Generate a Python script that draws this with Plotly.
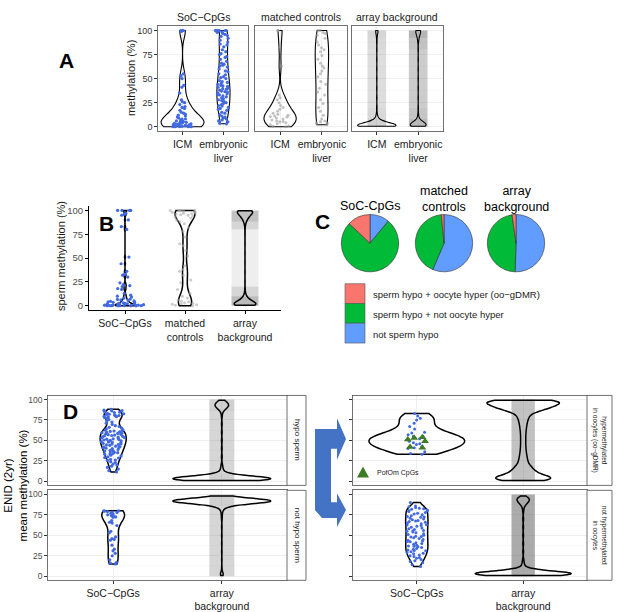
import numpy as np
import plotly.graph_objects as go

W, H = 617, 612

# ---------------- data ----------------
A_CATS = ["ICM", "embryonic<br>liver"]
B_CATS = ["SoC−CpGs", "matched<br>controls", "array<br>background"]
D_CATS = ["SoC−CpGs", "array<br>background"]
Y_TICKS = [0, 25, 50, 75, 100]
Y_MINOR = [12.5, 37.5, 62.5, 87.5]

# Panel A: SoC-CpGs methylation (%)
a_soc_icm = [0, 0, 0, 0, 0, 0.5, 0.5, 1, 1, 1, 1.5, 2, 2, 2, 2.5, 3, 3, 3.5, 4, 4, 4.5, 5, 5,
             6, 6, 7, 8, 8, 9, 10, 11, 12, 13, 14, 15, 17, 19, 20, 21, 23, 25, 26, 28, 35,
             41, 43, 50, 53, 55, 99, 100, 100, 100]
a_soc_liver = [3, 3.5, 5, 6, 7, 8, 9, 10, 11, 12.5, 14, 15, 17, 18, 19, 20, 21.5, 22, 23, 24,
               25, 26, 27, 28, 29, 30, 31, 32, 33, 33.5, 34, 35, 36, 36.5, 37, 38, 39, 39.5,
               40, 41, 42, 42.5, 43, 44, 45, 46, 47, 48, 50, 51, 52, 54, 55, 57, 58, 60, 62,
               63, 64, 65, 66, 68, 70, 72, 73, 75, 76, 78, 80, 83, 85, 86, 88, 90, 92, 94,
               95, 96, 97, 98, 98.5, 99, 99.5, 100, 100, 100, 100, 100, 100]
# Panel A: matched controls
a_mc_icm = [0, 0.5, 1, 2, 3, 4, 5, 5.5, 6, 7, 8, 9, 10, 10.5, 11, 12, 13, 14, 16, 18, 20,
            22, 25, 28, 30, 33, 63, 83, 100, 100]
a_mc_liver = [2, 3, 3.5, 4, 5, 6, 8, 12, 16, 20, 24, 28, 33, 36, 40, 44, 47, 52, 55, 58, 61,
              63, 66, 70, 74, 78, 80, 82, 85, 88, 92, 95, 97, 98, 100, 100]
# Panel A: array background (binned values and counts)
a_bg_icm_vals = [0.5, 2, 4, 6, 9, 13, 20, 30, 40, 50, 60, 70, 80, 88, 94, 98, 100]
a_bg_icm_counts = [700, 450, 200, 90, 45, 25, 18, 14, 12, 12, 12, 12, 13, 15, 20, 30, 45]
a_bg_liver_vals = [0.5, 2, 4, 6, 9, 13, 20, 30, 40, 50, 60, 70, 80, 88, 92, 95, 98, 100]
a_bg_liver_counts = [300, 330, 220, 90, 40, 25, 20, 18, 18, 18, 18, 18, 20, 28, 45, 70, 110, 120]
a_band_edges = [0, 8, 20, 80, 92, 100]
a_band_icm = [0.35, 0.28, 0.25, 0.28, 0.3]
a_band_liver = [0.5, 0.42, 0.38, 0.45, 0.55]

# Panel B: sperm methylation (%)
b_soc = [0, 0, 0, 0, 0, 0, 0, 0, 0, 0, 0, 0, 0.5, 0.5, 0.5, 1, 1, 1, 1, 1.5, 1.5, 2, 2, 2,
         2.5, 2.5, 3, 3, 3.5, 4, 4, 4.5, 5, 5.5, 6, 6.5, 7, 8, 9, 10, 11, 13, 17, 18, 20, 21,
         22, 24, 30, 32, 33, 36, 44, 51, 80, 83, 90, 95, 96, 97, 100, 100, 100, 100]
b_mc = [0, 0.5, 1, 1.5, 2, 2.5, 3, 4, 5, 6, 8, 10, 13, 17, 24, 27, 32, 36, 38, 42, 52, 58, 63,
        65, 72, 78, 82, 86, 88, 90, 92, 93, 94, 95, 95.5, 96, 96.5, 97, 97.5, 98, 98.5, 99,
        99.5, 100, 100, 100, 100]
b_bg_vals = [0.5, 2, 4, 6, 8, 10, 13, 17, 25, 35, 45, 55, 65, 75, 82, 86, 89, 92, 95, 98, 99.5]
b_bg_counts = [400, 300, 200, 120, 70, 40, 20, 12, 8, 7, 6, 6, 7, 8, 12, 25, 60, 120, 200, 260, 250]
b_band_edges = [0, 10, 20, 80, 88, 100]
b_band = [0.5, 0.3, 0.13, 0.3, 0.45]

# Panel C: category shares (%)
c_labels = ["not sperm hypo", "sperm hypo + not oocyte hyper",
            "sperm hypo + oocyte hyper (oo−gDMR)"]
c_colors = ["#619CFF", "#00BA38", "#F8766D"]
c_soc = [11, 76, 13]
c_mc = [56.4, 42.1, 1.5]
c_bg = [50.5, 47.3, 2.2]

# Panel D: ENID (2yr) mean methylation (%)
d1_soc = [11.5, 13, 15, 17, 18.5, 20, 21, 23, 24, 25.5, 26, 27, 28.5, 29, 30, 31, 32, 33, 33.5,
          34, 35, 35.5, 36, 37, 37.5, 38, 39, 40, 40.5, 41, 41.5, 42, 42.5, 43, 44, 44.5, 45,
          45.5, 46, 46.5, 47, 47.5, 48, 48.5, 49, 49.5, 50, 50.5, 51, 51.5, 52, 52.5, 53, 53.5,
          54, 54.5, 55, 55.5, 56, 56.5, 57, 57.5, 58, 58.5, 59, 59.5, 60, 60.5, 61, 61.5, 62,
          62.5, 63, 64, 65, 66, 67, 68, 69.5, 71, 72.5, 74, 75.5, 77, 78, 78.5, 79, 79.5, 80,
          80.5, 81, 81.5, 82, 82.5, 83, 84, 84.5, 85, 86, 86.5, 87, 88]
d1_bg_vals = [1, 3, 5, 7, 10, 15, 20, 30, 40, 50, 60, 70, 80, 85, 88, 91, 94, 97, 99]
d1_bg_counts = [500, 800, 500, 200, 80, 35, 20, 12, 10, 10, 10, 10, 12, 20, 50, 110, 120, 70, 30]
d2_soc = [15, 16, 17, 20, 25, 28, 31, 33, 38, 44, 45, 46, 48, 53, 55, 62, 65, 66, 68, 72, 72.5,
          73, 74, 75, 76, 77, 78, 78.5, 79, 79.5, 80, 80]
d2_bg_vals = [1, 3, 5, 10, 20, 30, 40, 50, 60, 70, 75, 80, 84, 87, 90, 92, 94, 96, 98]
d2_bg_counts = [20, 25, 8, 5, 5, 6, 6, 7, 8, 10, 14, 25, 60, 200, 600, 800, 500, 200, 50]
d3_soc = [83, 80, 77, 75, 71, 67, 64, 60, 59, 57, 55, 55, 52, 49, 47, 46, 45, 43, 41, 40,
          36, 34, 33]
d3_pofom = [54, 53, 51, 49, 42, 41]
d3_bg_vals = [1, 3, 5, 8, 12, 16, 20, 25, 30, 35, 40, 45, 50, 55, 60, 65, 70, 75, 80, 85, 88,
              91, 94, 97, 99]
d3_bg_counts = [60, 68, 68, 62, 48, 35, 27, 22, 18, 15, 13, 12, 12, 12, 13, 15, 18, 22, 30, 45,
                62, 85, 100, 100, 90]
d4_soc = [12, 14, 16.5, 18, 19, 20.5, 22, 23, 24, 25, 26, 27.5, 28, 29, 30, 31, 31.5, 32, 33,
          34, 35, 36, 36.5, 37, 38, 39, 40, 41, 42, 42.5, 43, 44, 45, 46, 47, 48, 48.5, 49, 50,
          51, 52, 53, 54, 55, 55.5, 56, 57, 58, 59, 60, 61, 62, 62.5, 63, 64, 65, 66, 67, 67.5,
          68, 69, 70, 71, 72, 72.5, 73, 74, 75, 76, 77, 78, 79, 80, 80.5, 81, 82, 82.5, 83, 84,
          85, 86, 90]
d4_bg_vals = [1, 3, 5, 7, 10, 15, 20, 30, 40, 50, 60, 70, 80, 85, 88, 91, 94, 96, 98]
d4_bg_counts = [500, 800, 450, 180, 70, 30, 18, 12, 10, 10, 10, 12, 14, 22, 45, 90, 100, 60, 20]
d_band_edges_l = [0, 10, 85, 100]
d1_band = [0.35, 0.3, 0.35]
d2_band = [0.3, 0.3, 0.35]
d_band_edges_r = [0, 100]
d3_band = [0.45]
d4_band = [0.62]

# ---------------- style ----------------
BLUE = "#4169E1"
FONT = "Liberation Sans"


def paper(x, y):
    return x / W, 1 - y / H


panels = [
    ("A1", 158, 25, 248, 132, A_CATS),
    ("A2", 255, 25, 347, 132, A_CATS),
    ("A3", 352, 25, 443, 132, A_CATS),
    ("B", 89, 207, 281, 313, B_CATS),
    ("D1", 48, 399, 287, 490, D_CATS),
    ("D2", 48, 495, 287, 586, D_CATS),
    ("D3", 353, 399, 587, 490, D_CATS),
    ("D4", 353, 495, 587, 586, D_CATS),
]
AX = {}
layout_axes = {}
for i, (name, x0, y0, x1, y1, cats) in enumerate(panels, start=1):
    sfx = "" if i == 1 else str(i)
    AX[name] = ("x" + sfx, "y" + sfx, cats)
    kind = name[0]
    xa = dict(domain=[x0 / W, x1 / W], anchor="y" + sfx, type="category",
              categoryorder="array", categoryarray=cats,
              range=[-0.6, len(cats) - 0.4], fixedrange=True, zeroline=False)
    ya = dict(domain=[1 - y1 / H, 1 - y0 / H], anchor="x" + sfx, range=[-5, 105],
              tickvals=Y_TICKS, fixedrange=True, zeroline=False)
    if kind in "AD":
        for a in (xa, ya):
            a.update(showline=True, mirror=True, linecolor="#4d4d4d", linewidth=0.8,
                     showgrid=True, gridcolor="#ebebeb", gridwidth=0.8)
        ya["minor"] = dict(tickvals=Y_MINOR, showgrid=True, gridcolor="#f5f5f5",
                           gridwidth=0.5)
    else:
        xa.update(showline=True, linecolor="black", linewidth=1, showgrid=False)
        ya.update(showline=True, linecolor="black", linewidth=1, showgrid=False)
    if kind == "A":
        xa.update(ticks="outside", ticklen=3, tickcolor="#333",
                  tickfont=dict(size=10.5, color="#1a1a1a", family=FONT))
        if name == "A1":
            ya.update(ticks="outside", ticklen=3, tickcolor="#333",
                      tickfont=dict(size=9, color="#333", family=FONT))
        else:
            ya.update(showticklabels=False, ticks="")
    elif kind == "B":
        xa.update(ticks="outside", ticklen=3, tickcolor="black",
                  tickfont=dict(size=10.5, color="#1a1a1a", family=FONT))
        ya.update(ticks="outside", ticklen=3, tickcolor="black",
                  tickfont=dict(size=9.5, color="#4d4d4d", family=FONT))
    else:
        if name in ("D2", "D4"):
            xa.update(ticks="outside", ticklen=3, tickcolor="#333",
                      tickfont=dict(size=10.5, color="#1a1a1a", family=FONT))
        else:
            xa.update(showticklabels=False, ticks="")
        ya.update(ticks="outside", ticklen=3, tickcolor="#333",
                  tickfont=dict(size=8.5, color="#4d4d4d", family=FONT))
        if name in ("D3", "D4"):
            ya.update(showticklabels=False)
    layout_axes["xaxis" + sfx] = xa
    layout_axes["yaxis" + sfx] = ya

traces = []


def vio(panel, cat, vals, width, lw=1.3, bw=None):
    xa, ya, _ = AX[panel]
    kw = {} if bw is None else {"bandwidth": bw}
    traces.append(go.Violin(x=[cat] * len(vals), y=list(vals), xaxis=xa, yaxis=ya,
                            width=width, spanmode="hard", scalemode="width",
                            points=False, fillcolor="rgba(0,0,0,0)",
                            line=dict(color="black", width=lw),
                            hoverinfo="skip", showlegend=False, **kw))


def pts(panel, cat, vals, width, color, size=3.5, jitter=1.0, opacity=1.0,
        symbol="circle"):
    xa, ya, _ = AX[panel]
    traces.append(go.Box(x=[cat] * len(vals), y=list(vals), xaxis=xa, yaxis=ya,
                         width=width, boxpoints="all", jitter=jitter, pointpos=0,
                         fillcolor="rgba(0,0,0,0)",
                         line=dict(width=0, color="rgba(0,0,0,0)"),
                         marker=dict(color=color, size=size, opacity=opacity,
                                     symbol=symbol, line=dict(width=0)),
                         hoverinfo="skip", showlegend=False))


def band(panel, cat, edges, shade, width):
    xa, ya, _ = AX[panel]
    lo = edges[:-1]
    h = list(np.diff(edges))
    traces.append(go.Bar(x=[cat] * len(lo), y=h, base=lo, width=width, xaxis=xa,
                         yaxis=ya,
                         marker=dict(color=[f"rgba(120,120,120,{s})" for s in shade],
                                     line=dict(width=0)),
                         hoverinfo="skip", showlegend=False))


def expand(vals, counts):
    return list(np.repeat(vals, counts))


# Panel A
pts("A1", A_CATS[0], a_soc_icm, 0.55, BLUE, size=3.2)
vio("A1", A_CATS[0], a_soc_icm, 1.05, lw=1.1)
pts("A1", A_CATS[1], a_soc_liver, 0.4, BLUE, size=3.2)
vio("A1", A_CATS[1], a_soc_liver, 0.32, lw=1.1)
pts("A2", A_CATS[0], a_mc_icm, 0.55, "#999999", size=3, opacity=0.6)
vio("A2", A_CATS[0], a_mc_icm, 0.77, lw=1.1)
pts("A2", A_CATS[1], a_mc_liver, 0.45, "#999999", size=3, opacity=0.6)
vio("A2", A_CATS[1], a_mc_liver, 0.32, lw=1.1)
band("A3", A_CATS[0], a_band_edges, a_band_icm, 0.45)
band("A3", A_CATS[1], a_band_edges, a_band_liver, 0.45)
vio("A3", A_CATS[0], expand(a_bg_icm_vals, a_bg_icm_counts), 0.93, lw=1.1, bw=2.5)
vio("A3", A_CATS[1], expand(a_bg_liver_vals, a_bg_liver_counts), 0.38, lw=1.1, bw=2.5)

# Panel B
pts("B", B_CATS[0], b_soc, 0.7, BLUE, size=3.2)
vio("B", B_CATS[0], b_soc, 0.33, lw=1.5, bw=1.2)
pts("B", B_CATS[1], b_mc, 0.5, "#aaaaaa", size=3, opacity=0.6)
vio("B", B_CATS[1], b_mc, 0.33, lw=1.5, bw=7)
band("B", B_CATS[2], b_band_edges, b_band, 0.45)
vio("B", B_CATS[2], expand(b_bg_vals, b_bg_counts), 0.36, lw=1.5, bw=2.5)

# Panel D
pts("D1", D_CATS[0], d1_soc, 0.22, BLUE, size=3.2)
vio("D1", D_CATS[0], d1_soc, 0.24, lw=1.5, bw=5)
band("D1", D_CATS[1], d_band_edges_l, d1_band, 0.23)
vio("D1", D_CATS[1], expand(d1_bg_vals, d1_bg_counts), 0.9, lw=1.5, bw=2.5)

pts("D2", D_CATS[0], d2_soc, 0.2, BLUE, size=3.2)
vio("D2", D_CATS[0], d2_soc, 0.21, lw=1.5, bw=8)
band("D2", D_CATS[1], d_band_edges_l, d2_band, 0.23)
vio("D2", D_CATS[1], expand(d2_bg_vals, d2_bg_counts), 0.9, lw=1.5, bw=2.5)

pts("D3", D_CATS[0], d3_soc, 0.2, BLUE, size=3)
pts("D3", D_CATS[0], d3_pofom, 0.2, "#3E7B27", size=7, symbol="triangle-up")
vio("D3", D_CATS[0], d3_soc + d3_pofom, 0.9, lw=1.5, bw=6)
band("D3", D_CATS[1], d_band_edges_r, d3_band, 0.22)
vio("D3", D_CATS[1], expand(d3_bg_vals, d3_bg_counts), 0.68, lw=1.5, bw=3)

pts("D4", D_CATS[0], d4_soc, 0.2, BLUE, size=3)
vio("D4", D_CATS[0], d4_soc, 0.21, lw=1.5, bw=5)
band("D4", D_CATS[1], d_band_edges_r, d4_band, 0.22)
vio("D4", D_CATS[1], expand(d4_bg_vals, d4_bg_counts), 0.9, lw=1.5, bw=2.5)

# Panel C pies
for vals, cx in ((c_soc, 370), (c_mc, 444), (c_bg, 516)):
    traces.append(go.Pie(values=vals, labels=c_labels, sort=False, direction="clockwise",
                         rotation=0, textinfo="none", hoverinfo="skip", showlegend=False,
                         marker=dict(colors=c_colors, line=dict(color="#333", width=0.6)),
                         domain=dict(x=[(cx - 29) / W, (cx + 29) / W],
                                     y=[1 - 274 / H, 1 - 216 / H])))

fig = go.Figure(data=traces)

# ---------------- annotations ----------------
ann = []


def text(t, x, y, size, rot=0, color="#1a1a1a", xanchor="center", bold=False):
    px_, py_ = paper(x, y)
    ann.append(dict(text=f"<b>{t}</b>" if bold else t, x=px_, y=py_, xref="paper",
                    yref="paper", showarrow=False, textangle=rot, xanchor=xanchor,
                    yanchor="middle", font=dict(size=size, color=color, family=FONT)))


text("SoC−CpGs", 203, 16, 10.5)
text("matched controls", 301, 16, 10.5)
text("array background", 397, 16, 10.5)
text("methylation (%)", 131, 78, 11, rot=-90)
text("A", 66, 60, 21, color="black", bold=True)

text("sperm methylation (%)", 61, 258, 11, rot=-90)
text("B", 106, 225, 21, color="black", bold=True)

text("SoC-CpGs", 370, 207, 12.5, color="black")
text("matched<br>controls", 444, 200, 12.5, color="black")
text("array<br>background", 516, 200, 12.5, color="black")
text("C", 322, 223, 21, color="black", bold=True)
for lab, yy in zip(reversed(c_labels), (297, 317, 337)):
    text(lab, 371, yy, 9.5, xanchor="left")

text("ENID (2yr)<br>mean methylation (%)", 15, 490, 11.5, rot=-90, color="black")
text("D", 70, 415, 21, color="black", bold=True)
text("hypo sperm", 297, 444, 8, rot=90)
text("not hypo sperm", 297, 540, 8, rot=90)
text("hypermethylated<br>in oocytes (oo−gDMR)", 600, 444, 6.5, rot=90)
text("not hypermethylated<br>in oocytes", 600, 540, 6.5, rot=90)
text("PofOm CpGs", 375, 477, 7, xanchor="left")

# ---------------- shapes ----------------
shapes = []


def poly(points, fill, line_color=None, line_width=0):
    d = "M " + " L ".join("{:.5f},{:.5f}".format(*paper(x, y)) for x, y in points) + " Z"
    shapes.append(dict(type="path", path=d, xref="paper", yref="paper", fillcolor=fill,
                       line=dict(width=line_width, color=line_color or fill)))


def rect(x0, y0, x1, y1, fill, line_color, lw=0.8):
    a, b = paper(x0, y1)
    c, d = paper(x1, y0)
    shapes.append(dict(type="rect", x0=a, y0=b, x1=c, y1=d, xref="paper", yref="paper",
                       fillcolor=fill, line=dict(color=line_color, width=lw)))


# facet strips (panel D)
for x0, x1 in ((287, 306), (587, 612)):
    rect(x0, 399, x1, 490, "white", "#4d4d4d")
    rect(x0, 495, x1, 586, "white", "#4d4d4d")

# legend keys (panel C)
for col, (y0, y1) in zip(reversed(c_colors), ((286, 306), (306, 326), (326, 346))):
    rect(345, y0, 365, y1, col, "#555", lw=0.6)

# PofOm legend key
poly([(357, 482), (369, 482), (363, 471)], "#3E7B27")

# bent blue arrow between D columns
poly([(315, 433), (337, 433), (337, 422), (346, 443), (337, 464), (337, 453), (331, 453),
      (331, 507), (337, 507), (337, 498), (346, 515), (337, 532), (337, 523), (322, 523),
      (315, 515)], "#4472C4")

fig.update_layout(
    width=W, height=H, margin=dict(l=0, r=0, t=0, b=0),
    paper_bgcolor="white", plot_bgcolor="white",
    violinmode="overlay", boxmode="overlay", barmode="overlay",
    font=dict(family=FONT, color="#1a1a1a"),
    annotations=ann, shapes=shapes, showlegend=False,
    **layout_axes,
)

fig.write_html("out.html", config={"displayModeBar": False, "staticPlot": True},
               post_script="document.body.style.margin='0px';"
                           "document.body.style.overflow='hidden';")
